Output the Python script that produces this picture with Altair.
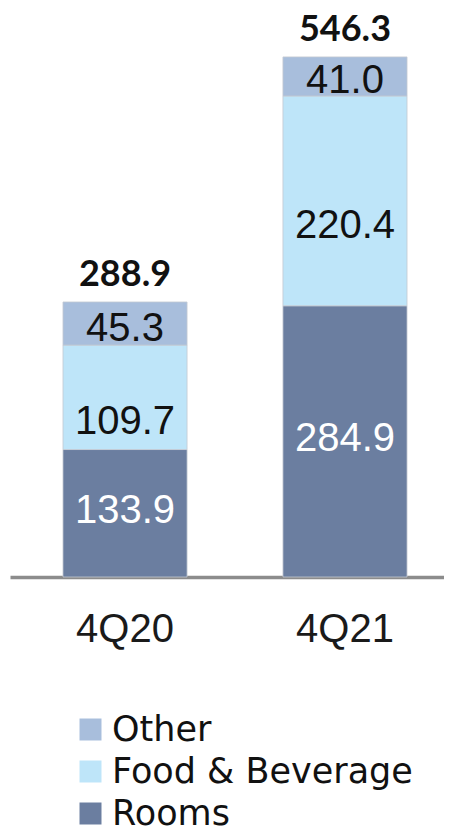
import altair as alt
import pandas as pd

quarters = ["4Q20", "4Q21"]
series = ["Rooms", "Food & Beverage", "Other"]
rooms = [133.9, 284.9]
food_bev = [109.7, 220.4]
other = [45.3, 41.0]
totals = [288.9, 546.3]

legend_order = ["Other", "Food & Beverage", "Rooms"]
palette = {"Other": "#a8bedc", "Food & Beverage": "#bee5f9", "Rooms": "#6b7ea0"}

rows = []
for i, q in enumerate(quarters):
    for k, (s, vals) in enumerate(zip(series, [rooms, food_bev, other])):
        rows.append({"quarter": q, "series": s, "value": vals[i], "order": k})
df = pd.DataFrame(rows)
tot_df = pd.DataFrame({"quarter": quarters, "total": totals})

x_enc = alt.X(
    "quarter:N",
    sort=quarters,
    title=None,
    scale=alt.Scale(paddingInner=0.436, paddingOuter=0.2045, align=0.589),
    axis=alt.Axis(
        labelAngle=0, ticks=False, labelFont="Liberation Sans", labelFontSize=40,
        labelColor="#1a1a1a", labelPadding=32, domainColor="#8c8c8c",
        domainWidth=3.5, grid=False,
    ),
)
y_scale = alt.Scale(domain=[0, 597.7], nice=False, zero=True)

bars = alt.Chart(df).mark_bar(stroke="#c4c9d2", strokeWidth=0.8).encode(
    x=x_enc,
    y=alt.Y("value:Q", stack="zero", scale=y_scale, axis=None),
    color=alt.Color(
        "series:N",
        scale=alt.Scale(domain=legend_order, range=[palette[s] for s in legend_order]),
        legend=alt.Legend(
            title=None, orient="none", legendX=63, legendY=704,
            symbolType="square", symbolSize=484, symbolStrokeWidth=0,
            labelFont="DejaVu Sans", labelFontSize=35, labelColor="#111111",
            labelLimit=500, rowPadding=6, labelOffset=4, padding=0,
            direction="vertical",
        ),
    ),
    order=alt.Order("order:Q", sort="ascending"),
)

stacked = alt.Chart(df).transform_stack(
    stack="value", groupby=["quarter"],
    sort=[alt.SortField("order", "ascending")], as_=["y0", "y1"],
).transform_calculate(mid="(datum.y0 + datum.y1) / 2")

def seg_labels(name, color, dy):
    return stacked.transform_filter(alt.datum.series == name).mark_text(
        font="Liberation Sans", fontSize=40, color=color, baseline="middle",
        align="center", dy=dy,
    ).encode(
        x=x_enc,
        y=alt.Y("mid:Q", scale=y_scale, axis=None),
        text=alt.Text("value:Q", format=".1f"),
    )

lab_rooms = seg_labels("Rooms", "#ffffff", -2)
lab_fb = seg_labels("Food & Beverage", "#111111", 25)
lab_other = seg_labels("Other", "#111111", 5)

tot_labels = alt.Chart(tot_df).mark_text(
    font="Lato", fontWeight="bold", fontSize=36, color="#111111",
    baseline="alphabetic", align="center", dy=-16,
).encode(
    x=x_enc,
    y=alt.Y("total:Q", scale=y_scale, axis=None),
    text=alt.Text("total:Q", format=".1f"),
)

chart = alt.layer(bars, lab_rooms, lab_fb, lab_other, tot_labels).properties(
    width=434, height=569,
    padding={"left": 2, "top": 0, "right": 0, "bottom": 250},
    autosize=alt.AutoSizeParams(type="none"),
    background="white",
).configure_view(stroke=None)

chart.save("out.html", embed_options={"renderer": "svg", "actions": False})
